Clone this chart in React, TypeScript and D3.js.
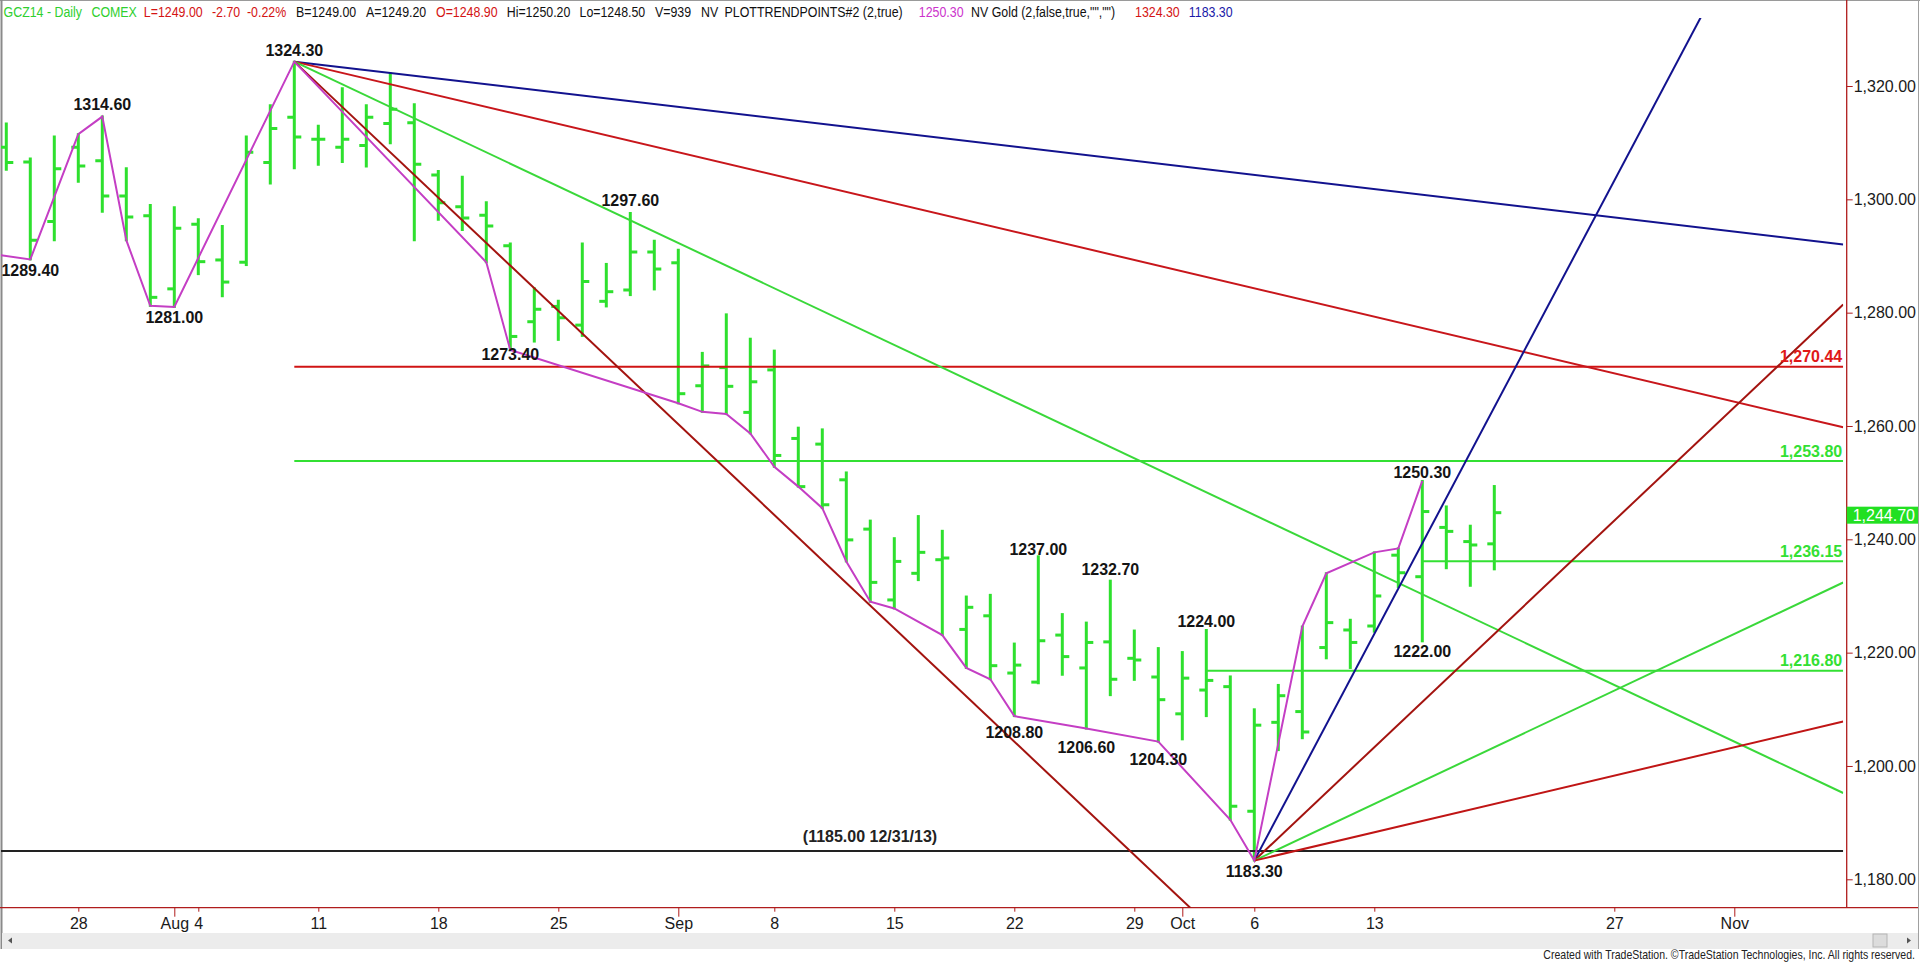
import React, { useEffect, useRef } from 'react';
import * as d3 from 'd3';

// Daily bars, GC Dec 2014
const barDates = [
  '2014-07-23', '2014-07-24', '2014-07-25', '2014-07-28', '2014-07-29', '2014-07-30', '2014-07-31',
  '2014-08-01', '2014-08-04', '2014-08-05', '2014-08-06', '2014-08-07', '2014-08-08', '2014-08-11',
  '2014-08-12', '2014-08-13', '2014-08-14', '2014-08-15', '2014-08-18', '2014-08-19', '2014-08-20',
  '2014-08-21', '2014-08-22', '2014-08-25', '2014-08-26', '2014-08-27', '2014-08-28', '2014-08-29',
  '2014-09-02', '2014-09-03', '2014-09-04', '2014-09-05', '2014-09-08', '2014-09-09', '2014-09-10',
  '2014-09-11', '2014-09-12', '2014-09-15', '2014-09-16', '2014-09-17', '2014-09-18', '2014-09-19',
  '2014-09-22', '2014-09-23', '2014-09-24', '2014-09-25', '2014-09-26', '2014-09-29', '2014-09-30',
  '2014-10-01', '2014-10-02', '2014-10-03', '2014-10-06', '2014-10-07', '2014-10-08', '2014-10-09',
  '2014-10-10', '2014-10-13', '2014-10-14', '2014-10-15', '2014-10-16', '2014-10-17', '2014-10-20',
];
const futureDates = [
  '2014-10-21', '2014-10-22', '2014-10-23', '2014-10-24', '2014-10-27', '2014-10-28', '2014-10-29',
  '2014-10-30', '2014-10-31', '2014-11-03', '2014-11-04', '2014-11-05', '2014-11-06', '2014-11-07',
];

const opens = [
  1309.2, 1306.6, 1296.1, 1309.2, 1306.8, 1300.6, 1297.1, 1284.2, 1295.6, 1289.3, 1288.9, 1306.5, 1314.5,
  1310.6, 1309.2, 1309.5, 1313.4, 1313.5, 1304.3, 1298.7, 1297.2, 1291.8, 1278.4, 1281.1, 1277.8, 1282.0,
  1284.0, 1290.7, 1288.8, 1267.1, 1270.3, 1262.4, 1269.9, 1257.8, 1256.8, 1250.5, 1241.8, 1229.3, 1234.0,
  1236.4, 1224.1, 1226.5, 1216.4, 1214.8, 1223.1, 1217.3, 1221.9, 1219.0, 1215.7, 1209.2, 1213.4, 1214.0,
  1192.0, 1207.7, 1209.6, 1220.9, 1224.0, 1224.7, 1237.2, 1233.4, 1242.1, 1239.6, 1239.2,
];
const highs = [
  1313.4, 1307.2, 1311.1, 1311.5, 1314.6, 1305.5, 1299.0, 1298.6, 1296.5, 1295.3, 1311.1, 1316.6, 1324.3,
  1313.0, 1319.6, 1316.6, 1322.2, 1316.8, 1305.0, 1304.0, 1299.5, 1292.2, 1284.3, 1282.1, 1292.2, 1288.6,
  1297.6, 1292.7, 1291.1, 1272.9, 1279.7, 1275.4, 1273.3, 1259.7, 1259.4, 1251.8, 1243.3, 1240.2, 1244.1,
  1241.5, 1229.9, 1230.2, 1221.6, 1237.0, 1226.8, 1225.3, 1232.7, 1223.9, 1220.8, 1220.1, 1224.0, 1215.8,
  1210.0, 1214.3, 1224.6, 1234.0, 1225.8, 1237.7, 1238.4, 1250.3, 1245.8, 1242.4, 1249.4,
];
const lows = [
  1305.2, 1289.4, 1292.8, 1303.1, 1297.8, 1292.8, 1281.2, 1281.0, 1286.8, 1282.9, 1288.4, 1302.8, 1305.5,
  1306.1, 1306.6, 1305.8, 1309.9, 1292.8, 1296.4, 1294.6, 1288.9, 1273.4, 1274.9, 1275.2, 1275.9, 1281.1,
  1283.1, 1284.1, 1264.0, 1262.5, 1262.1, 1258.7, 1252.8, 1249.3, 1245.5, 1236.1, 1229.0, 1227.8, 1232.8,
  1223.1, 1217.3, 1215.3, 1208.8, 1214.6, 1216.1, 1206.6, 1212.5, 1215.2, 1204.3, 1204.7, 1208.8, 1190.5,
  1183.3, 1202.8, 1204.9, 1219.0, 1217.3, 1223.7, 1231.6, 1222.0, 1234.9, 1231.8, 1234.7,
];
const closes = [
  1306.5, 1292.8, 1305.4, 1305.9, 1300.6, 1296.9, 1282.7, 1294.9, 1289.0, 1285.4, 1308.3, 1312.5, 1311.0,
  1310.6, 1310.6, 1314.5, 1315.9, 1306.2, 1299.4, 1296.7, 1295.3, 1275.8, 1280.6, 1279.1, 1285.5, 1283.7,
  1290.7, 1287.7, 1265.7, 1270.6, 1267.0, 1267.8, 1254.8, 1249.3, 1246.1, 1239.9, 1232.4, 1236.1, 1237.7,
  1236.7, 1228.0, 1217.7, 1217.8, 1222.1, 1219.3, 1221.8, 1215.3, 1218.7, 1211.7, 1215.5, 1215.1, 1192.9,
  1207.2, 1212.4, 1206.0, 1225.3, 1221.8, 1230.0, 1234.1, 1244.9, 1241.4, 1239.0, 1244.7,
];

// PLOTTRENDPOINTS swing line: bar index + which extreme
const swingLeadIn: [number, number] = [-1, 1290.6];
const swingBars: [number, 'H' | 'L'][] = [
  [1, 'L'], [3, 'H'], [4, 'H'], [5, 'L'], [6, 'L'], [7, 'L'], [12, 'H'], [20, 'L'], [21, 'L'], [28, 'L'],
  [29, 'L'], [30, 'L'], [31, 'L'], [32, 'L'], [33, 'L'], [34, 'L'], [35, 'L'], [36, 'L'], [37, 'L'],
  [39, 'L'], [40, 'L'], [41, 'L'], [42, 'L'], [45, 'L'], [48, 'L'], [51, 'L'], [52, 'L'], [54, 'H'],
  [55, 'H'], [57, 'H'], [58, 'H'], [59, 'H'],
];

// pivot price labels
const pivotLabels: [number, 'H' | 'L'][] = [
  [1, 'L'], [4, 'H'], [7, 'L'], [12, 'H'], [21, 'L'], [26, 'H'], [42, 'L'], [43, 'H'], [45, 'L'],
  [46, 'H'], [48, 'L'], [50, 'H'], [52, 'L'], [59, 'H'], [59, 'L'],
];
const pivotLabelGap = [16.7, 6.6, 16, 5.6, 10, 6.7, 22.3, 1.7, 24.4, 5.7, 23.3, 3.3, 16, 2.7, 15.7];

// Gann style fans (price per bar)
const peakBar = 12;
const peakFanSlopes = [-0.5, -1, -2, -4];
const peakFanColors = ['#12128e', '#c8161b', '#3ad83a', '#a3130f'];
const lowBar = 52;
const lowFanSlopes = [8, 4, 2, 1];
const lowFanColors = ['#12128e', '#a3130f', '#3ad83a', '#c01515'];

// retracement levels
const levelValues = [1270.44, 1253.8, 1236.15, 1216.8];
const levelStartBars = [12, 12, 59, 50];
const levelColors = ['#d01414', '#33e033', '#33e033', '#33e033'];
const levelLabelColors = ['#e01818', '#33e033', '#33e033', '#33e033'];

const priorLow = 1185.0;
const priorLowLabel = '(1185.00 12/31/13)';

const yTicks = [1180, 1200, 1220, 1240, 1260, 1280, 1300, 1320];
const xTickDates = [
  '2014-07-28', '2014-08-01', '2014-08-04', '2014-08-11', '2014-08-18', '2014-08-25', '2014-09-02',
  '2014-09-08', '2014-09-15', '2014-09-22', '2014-09-29', '2014-10-01', '2014-10-06', '2014-10-13',
  '2014-10-27', '2014-11-03',
];
const xTickLabels = ['28', 'Aug', '4', '11', '18', '25', 'Sep', '8', '15', '22', '29', 'Oct', '6', '13', '27', 'Nov'];

const headerParts: [string, string, number][] = [
  ['GCZ14 - Daily', '#2fcf2f', 3.6],
  ['COMEX', '#2fcf2f', 91.5],
  ['L=1249.00', '#d41414', 143.8],
  ['-2.70', '#d41414', 212],
  ['-0.22%', '#d41414', 247],
  ['B=1249.00', '#111', 296],
  ['A=1249.20', '#111', 366],
  ['O=1248.90', '#d41414', 436],
  ['Hi=1250.20', '#111', 506.7],
  ['Lo=1248.50', '#111', 579.5],
  ['V=939', '#111', 655],
  ['NV', '#111', 701],
  ['PLOTTRENDPOINTS#2 (2,true)', '#111', 724.6],
  ['1250.30', '#cc33cc', 918.8],
  ['NV Gold (2,false,true,"","")', '#111', 971],
  ['1324.30', '#d41414', 1135],
  ['1183.30', '#1a1aa8', 1188.8],
];

const FONT = '"Liberation Sans", Arial, sans-serif';
const AXIS_X = 1846.7;
const AXIS_Y = 907.7;
const BAR_GREEN = '#2ee02e';

export default function App() {
  const svgRef = useRef<SVGSVGElement>(null);

  useEffect(() => {
    if (!svgRef.current) return;
    const svg = d3.select(svgRef.current);
    svg.selectAll('*').remove();

    const allDates = barDates.concat(futureDates);
    const x = d3.scaleLinear().domain([0, 62]).range([6.3, 1494.3]);
    const y = d3.scaleLinear().domain([1180, 1320]).range([879.3, 86]);
    const lineEndX = AXIS_X - 3.5;
    const endBar = x.invert(lineEndX);

    svg.append('rect').attr('width', 1920).attr('height', 964).attr('fill', '#fff');

    const defs = svg.append('defs');
    defs.append('clipPath').attr('id', 'plotClip')
      .append('rect').attr('x', 1).attr('y', 18).attr('width', lineEndX - 1).attr('height', AXIS_Y - 18);

    // header
    const header = svg.append('g').attr('font-family', FONT).attr('font-size', 14);
    headerParts.forEach(([t, c, px]) => {
      header.append('text')
        .attr('transform', `translate(${px},16.7) scale(0.885,1)`)
        .attr('fill', c)
        .text(t);
    });

    // frame
    svg.append('line').attr('x1', 0).attr('x2', 1920).attr('y1', 0.5).attr('y2', 0.5).attr('stroke', '#9a9a9a');
    svg.append('line').attr('x1', 1.5).attr('x2', 1.5).attr('y1', 0).attr('y2', 949).attr('stroke', '#8a8a8a').attr('stroke-width', 2);
    svg.append('line').attr('x1', 1918.5).attr('x2', 1918.5).attr('y1', 0).attr('y2', 949).attr('stroke', '#a0a0a0');

    // axes
    svg.append('line').attr('x1', AXIS_X).attr('x2', AXIS_X).attr('y1', 0).attr('y2', AXIS_Y)
      .attr('stroke', '#b01c1c').attr('stroke-width', 1.3);
    svg.append('line').attr('x1', 0).attr('x2', 1918).attr('y1', AXIS_Y).attr('y2', AXIS_Y)
      .attr('stroke', '#b01c1c').attr('stroke-width', 1.3);

    const yAxis = svg.append('g')
      .attr('transform', `translate(${AXIS_X},0)`)
      .call(d3.axisRight(y).tickValues(yTicks).tickFormat(d3.format(',.2f') as any).tickSize(6).tickPadding(1));
    yAxis.select('.domain').remove();
    yAxis.selectAll('line').attr('stroke', '#b01c1c');
    yAxis.selectAll('text').attr('font-family', FONT).attr('font-size', 16).attr('fill', '#1a1a1a');

    const tickIdx = xTickDates.map(d => allDates.indexOf(d));
    const xAxis = svg.append('g')
      .attr('transform', `translate(0,${AXIS_Y})`)
      .call(d3.axisBottom(x).tickValues(tickIdx).tickFormat((_d: any, i: number) => xTickLabels[i]).tickSize(4).tickPadding(6));
    xAxis.select('.domain').remove();
    xAxis.selectAll('.tick line')
      .attr('stroke', '#b01c1c')
      .attr('y2', (_d: any, i: number) => (/^[A-Z]/.test(xTickLabels[i]) ? 9 : 4));
    xAxis.selectAll('text').attr('font-family', FONT).attr('font-size', 16).attr('fill', '#1a1a1a');

    // scroll bar
    svg.append('rect').attr('x', 2).attr('y', 933).attr('width', 1916).attr('height', 16).attr('fill', '#ececec');
    svg.append('path').attr('d', 'M8,940.5 L12,937.5 L12,943.5 Z').attr('fill', '#555');
    svg.append('path').attr('d', 'M1911,940.5 L1907,937.5 L1907,943.5 Z').attr('fill', '#555');
    svg.append('rect').attr('x', 1873).attr('y', 934).attr('width', 14).attr('height', 13)
      .attr('fill', '#dcdcdc').attr('stroke', '#b4b4b4');
    const credit = svg.append('text')
      .attr('text-anchor', 'end')
      .attr('font-family', FONT).attr('font-size', 12).attr('fill', '#222')
      .text('Created with TradeStation. \u00A9TradeStation Technologies, Inc. All rights reserved.');
    const natural = (credit.node() as SVGTextElement).getComputedTextLength() || 372;
    credit.attr('transform', `translate(1915,959) scale(${Math.min(1, 372 / natural)},1)`);

    const plot = svg.append('g').attr('clip-path', 'url(#plotClip)');

    // OHLC bars
    const bars = plot.append('g').attr('stroke', BAR_GREEN).attr('stroke-width', 3);
    barDates.forEach((_d, i) => {
      const bx = x(i);
      bars.append('line').attr('x1', bx).attr('x2', bx).attr('y1', y(highs[i]) - 1).attr('y2', y(lows[i]) + 1);
      bars.append('line').attr('x1', bx - 7).attr('x2', bx).attr('y1', y(opens[i])).attr('y2', y(opens[i]));
      bars.append('line').attr('x1', bx).attr('x2', bx + 7).attr('y1', y(closes[i])).attr('y2', y(closes[i]));
    });

    // prior low support
    plot.append('line')
      .attr('x1', 0).attr('x2', lineEndX)
      .attr('y1', y(priorLow)).attr('y2', y(priorLow))
      .attr('stroke', '#222').attr('stroke-width', 2);

    // retracement levels
    levelValues.forEach((v, i) => {
      plot.append('line')
        .attr('x1', x(levelStartBars[i])).attr('x2', lineEndX)
        .attr('y1', y(v)).attr('y2', y(v))
        .attr('stroke', levelColors[i]).attr('stroke-width', 2);
    });

    // fans
    const fan = (bar: number, price: number, slopes: number[], colors: string[]) => {
      slopes.forEach((s, i) => {
        plot.append('line')
          .attr('x1', x(bar)).attr('y1', y(price))
          .attr('x2', x(endBar)).attr('y2', y(price + s * (endBar - bar)))
          .attr('stroke', colors[i]).attr('stroke-width', 2);
      });
    };
    fan(peakBar, highs[peakBar], peakFanSlopes, peakFanColors);
    fan(lowBar, lows[lowBar], lowFanSlopes, lowFanColors);

    // swing line
    const swingPts: [number, number][] = [swingLeadIn].concat(
      swingBars.map(([b, s]) => [b, s === 'H' ? highs[b] : lows[b]] as [number, number])
    );
    plot.append('path')
      .attr('d', d3.line<[number, number]>().x(p => x(p[0])).y(p => y(p[1]))(swingPts) || '')
      .attr('fill', 'none').attr('stroke', '#c43ec4').attr('stroke-width', 2);

    // labels
    const labels = svg.append('g')
      .attr('font-family', FONT).attr('font-size', 16).attr('font-weight', 'bold').attr('fill', '#141414');
    pivotLabels.forEach(([b, s], i) => {
      const v = s === 'H' ? highs[b] : lows[b];
      labels.append('text')
        .attr('x', x(b))
        .attr('y', s === 'H' ? y(v) - pivotLabelGap[i] : y(v) + pivotLabelGap[i])
        .attr('text-anchor', 'middle')
        .text(d3.format('.2f')(v));
    });
    labels.append('text')
      .attr('x', 870).attr('y', y(priorLow) - 9)
      .attr('text-anchor', 'middle').attr('fill', '#222')
      .text(priorLowLabel);

    levelValues.forEach((v, i) => {
      labels.append('text')
        .attr('x', lineEndX - 1).attr('y', y(v) - 4.5)
        .attr('text-anchor', 'end').attr('fill', levelLabelColors[i])
        .text(d3.format(',.2f')(v));
    });

    // last price marker
    const last = closes[closes.length - 1];
    svg.append('rect')
      .attr('x', AXIS_X).attr('y', y(last) - 6).attr('width', 1918 - AXIS_X).attr('height', 17)
      .attr('fill', '#22e022');
    svg.append('text')
      .attr('x', 1915).attr('y', y(last) + 8)
      .attr('text-anchor', 'end')
      .attr('font-family', FONT).attr('font-size', 16).attr('fill', '#fff')
      .text(d3.format(',.2f')(last));
  }, []);

  return (
    <svg
      ref={svgRef}
      width={1920}
      height={964}
      style={{ position: 'fixed', left: 0, top: 0, display: 'block' }}
    />
  );
}
